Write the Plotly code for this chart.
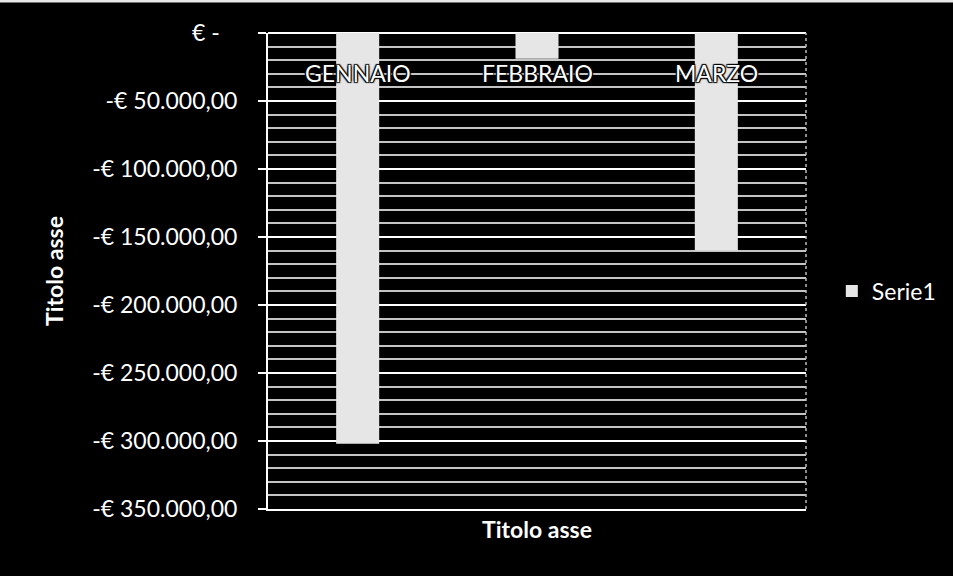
import plotly.graph_objects as go

# Monthly totals (EUR)
months = ["GENNAIO", "FEBBRAIO", "MARZO"]
serie1 = [-302000, -19000, -160000]

# Y axis ticks in Italian accounting format
y_tickvals = [0, -50000, -100000, -150000, -200000, -250000, -300000, -350000]
y_ticktext = ["€ -\u00a0\u00a0\u00a0", "-€ 50.000,00", "-€ 100.000,00", "-€ 150.000,00",
              "-€ 200.000,00", "-€ 250.000,00", "-€ 300.000,00", "-€ 350.000,00"]

FONT = "Lato, 'Open Sans', sans-serif"
FG = "#ffffff"

fig = go.Figure()
fig.add_trace(go.Bar(
    x=months,
    y=serie1,
    name="Serie1",
    marker=dict(color="#e6e6e6", line=dict(width=0)),
    width=0.24,
))

# Category labels sit just under the zero line, inside the plot area,
# with a dark halo so they stay readable over the bars
for m in months:
    fig.add_annotation(
        x=m, xref="x", y=0.915, yref="paper",
        text=m, showarrow=False,
        font=dict(family=FONT, size=23, color=FG,
                  shadow="1px 1px 1px #000, -1px -1px 1px #000, 1px -1px 1px #000, -1px 1px 1px #000"),
        yanchor="middle", bgcolor="rgba(0,0,0,0)",
    )

# Right border of the plot area and the light edge along the top of the page
fig.add_shape(type="line", xref="paper", yref="paper", x0=1, x1=1, y0=0, y1=1,
              line=dict(color="#bbbbbb", width=1.5, dash="dot"))
fig.add_shape(type="line", xref="paper", yref="paper", x0=-0.5, x1=1.3, y0=1.067, y1=1.067,
              line=dict(color="#e8e8e8", width=3))

fig.update_layout(
    width=953, height=576,
    margin=dict(l=268, r=147, t=33, b=67, autoexpand=False),
    paper_bgcolor="#000000",
    plot_bgcolor="#000000",
    font=dict(family=FONT, color=FG, size=23),
    showlegend=True,
    legend=dict(
        x=1.048, y=0.458, xanchor="left", yanchor="middle",
        font=dict(family=FONT, size=23, color=FG),
        bgcolor="rgba(0,0,0,0)",
    ),
    xaxis=dict(
        showticklabels=False,
        showgrid=False,
        showline=True, linecolor=FG, linewidth=2,
        ticks="",
        title=dict(text="<b>Titolo asse</b>", standoff=12,
                   font=dict(family=FONT, size=23, color=FG)),
    ),
    yaxis=dict(
        range=[-350000, 0],
        tickmode="array",
        tickvals=y_tickvals,
        ticktext=y_ticktext,
        ticks="outside", ticklen=8, tickwidth=2, tickcolor=FG,
        ticklabelstandoff=16,
        tickfont=dict(family=FONT, size=23, color=FG),
        showgrid=True, gridcolor=FG, gridwidth=2,
        zeroline=True, zerolinecolor=FG, zerolinewidth=2,
        showline=True, linecolor=FG, linewidth=2,
        minor=dict(tickmode="linear", tick0=0, dtick=10000,
                   showgrid=True, gridcolor="#c4c4c4", gridwidth=1.5, ticks=""),
        title=dict(text="<b>Titolo asse</b>", standoff=22,
                   font=dict(family=FONT, size=23, color=FG)),
    ),
)

fig.write_html("out.html")
